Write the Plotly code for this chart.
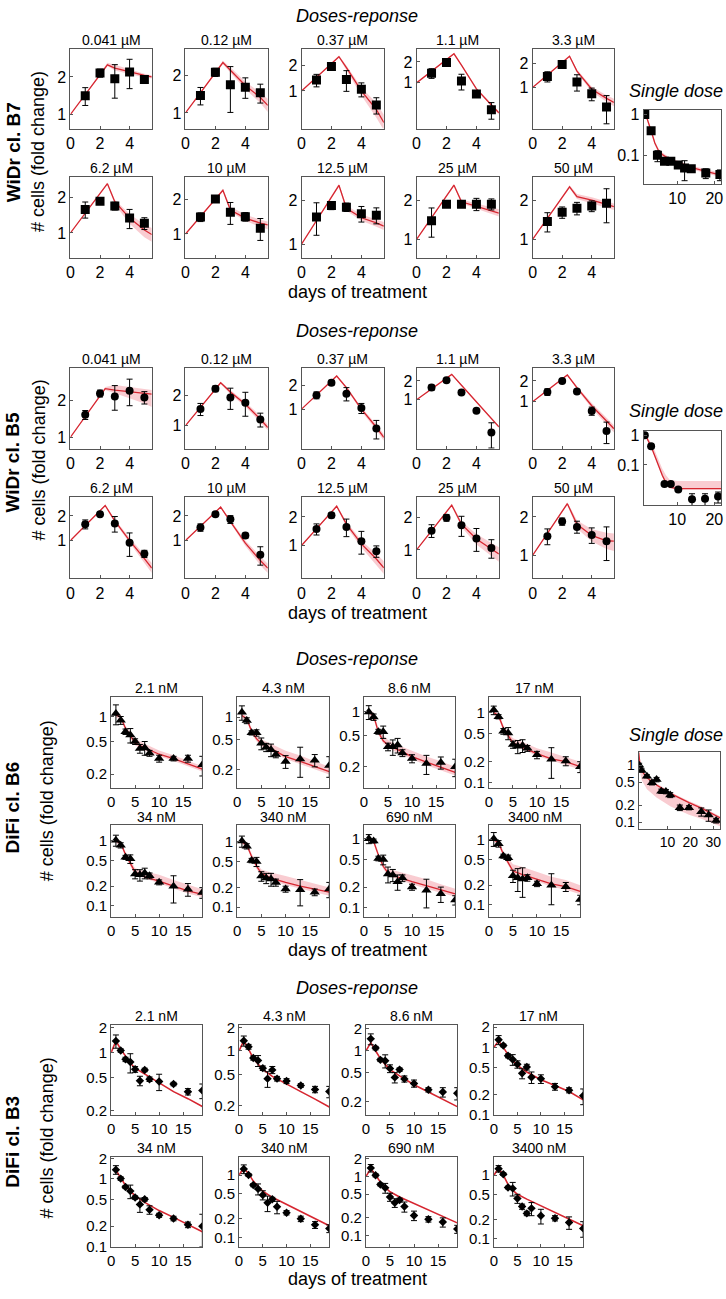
import numpy as np
import plotly.graph_objects as go

W, H = 726, 1299
FONT = "Liberation Sans, Arial, Helvetica, sans-serif"
RED = "rgb(214,38,48)"
BAND = "rgba(238,110,122,0.35)"
AXC = "#555555"

# ---------------- WiDr cl. B7 (dose response) ----------------
WIDR_days = [1, 2, 3, 4, 5]
B7_doses = ["0.041 µM", "0.12 µM", "0.37 µM", "1.1 µM", "3.3 µM",
            "6.2 µM", "10 µM", "12.5 µM", "25 µM", "50 µM"]
B7_mean = [[1.41, 2.15, 1.93, 2.19, 1.91], [1.38, 2.12, 1.68, 1.61, 1.45],
           [1.35, 1.96, 1.37, 1.05, 0.68], [1.38, 1.96, 1.06, 0.69, 0.41],
           [1.37, 1.94, 1.17, 0.83, 0.57], [1.59, 1.87, 1.70, 1.34, 1.21],
           [1.40, 2.00, 1.54, 1.41, 1.12], [1.54, 1.85, 1.80, 1.62, 1.58],
           [1.39, 1.86, 1.86, 1.86, 1.86], [1.37, 1.61, 1.73, 1.80, 1.89]]
B7_err = [[0.23, 0.16, 0.58, 0.58, 0.14], [0.22, 0.16, 0.67, 0.30, 0.25],
          [0.23, 0.12, 0.38, 0.20, 0.15], [0.22, 0.12, 0.27, 0.05, 0.11],
          [0.20, 0.12, 0.27, 0.15, 0.22], [0.25, 0.12, 0.13, 0.25, 0.14],
          [0.12, 0.13, 0.33, 0.12, 0.24], [0.39, 0.12, 0.12, 0.20, 0.20],
          [0.35, 0.10, 0.10, 0.20, 0.18], [0.23, 0.16, 0.19, 0.17, 0.55]]
B7_model_t = [0, 2.5, 3, 4, 5, 5.5]
B7_model = [[1.0, 2.50, 2.35, 2.19, 2.06, 2.00], [1.0, 2.53, 2.20, 1.66, 1.33, 1.15],
            [1.0, 2.57, 1.90, 1.00, 0.60, 0.42], [1.0, 2.62, 1.80, 0.82, 0.48, 0.37],
            [1.0, 2.46, 1.60, 0.95, 0.73, 0.65], [1.0, 2.64, 1.85, 1.34, 1.06, 0.97],
            [1.0, 2.38, 1.61, 1.37, 1.24, 1.20], [1.0, 2.55, 1.77, 1.52, 1.40, 1.33],
            [1.0, 2.60, 1.94, 1.78, 1.65, 1.59], [1.0, 2.52, 2.12, 2.00, 1.85, 1.78]]
B7_lo = [[1.0, 2.45, 2.25, 2.10, 1.98, 1.94], [1.0, 2.45, 2.10, 1.55, 1.20, 1.02],
         [1.0, 2.50, 1.80, 0.88, 0.48, 0.34], [1.0, 2.55, 1.74, 0.79, 0.46, 0.35],
         [1.0, 2.40, 1.52, 0.88, 0.66, 0.58], [1.0, 2.58, 1.75, 1.20, 0.92, 0.84],
         [1.0, 2.32, 1.55, 1.30, 1.15, 1.10], [1.0, 2.50, 1.70, 1.45, 1.32, 1.25],
         [1.0, 2.54, 1.88, 1.70, 1.57, 1.50], [1.0, 2.46, 2.04, 1.90, 1.75, 1.68]]
B7_hi = [[1.0, 2.60, 2.50, 2.30, 2.12, 2.06], [1.0, 2.62, 2.32, 1.78, 1.45, 1.30],
         [1.0, 2.65, 2.02, 1.10, 0.72, 0.52], [1.0, 2.70, 1.86, 0.85, 0.50, 0.39],
         [1.0, 2.53, 1.68, 1.02, 0.80, 0.72], [1.0, 2.70, 1.92, 1.45, 1.18, 1.10],
         [1.0, 2.45, 1.72, 1.47, 1.33, 1.28], [1.0, 2.62, 1.85, 1.60, 1.48, 1.42],
         [1.0, 2.66, 2.02, 1.88, 1.76, 1.70], [1.0, 2.60, 2.22, 2.10, 1.95, 1.88]]
B7_ylim = [[0.77, 3.38], [0.75, 3.28], [0.355, 3.22], [0.22, 3.12], [0.305, 3.07],
           [0.61, 3.01], [0.62, 3.10], [0.80, 2.91], [0.72, 3.0], [0.72, 3.0]]

# ---------------- WiDr cl. B5 (dose response) ----------------
B5_doses = B7_doses
B5_mean = [[1.53, 2.30, 2.17, 2.42, 2.13], [1.46, 2.32, 1.90, 1.69, 1.15],
           [1.50, 2.16, 1.57, 1.03, 0.57], [1.57, 2.05, 1.31, 0.67, 0.30],
           [1.39, 2.00, 1.41, 0.74, 0.38], [1.59, 2.10, 1.62, 0.94, 0.69],
           [1.45, 2.10, 1.82, 1.15, 0.67], [1.49, 2.08, 1.57, 1.11, 0.87],
           [1.50, 1.97, 1.68, 1.27, 1.04], [1.41, 1.84, 1.67, 1.44, 1.29]]
B5_err = [[0.13, 0.15, 0.50, 0.60, 0.25], [0.20, 0.15, 0.45, 0.45, 0.18],
          [0.15, 0.15, 0.30, 0.15, 0.15], [0.15, 0.13, 0.08, 0.04, 0.13],
          [0.15, 0.12, 0.10, 0.10, 0.13], [0.20, 0.12, 0.35, 0.30, 0.07],
          [0.15, 0.12, 0.20, 0.08, 0.17], [0.20, 0.12, 0.33, 0.30, 0.12],
          [0.20, 0.14, 0.35, 0.30, 0.20], [0.20, 0.12, 0.18, 0.20, 0.38]]
B5_model_t = [0, 2.35, 3, 4, 5, 5.5]
B5_model = [[1.0, 2.52, 2.45, 2.38, 2.30, 2.27], [1.0, 2.66, 2.15, 1.63, 1.16, 0.96],
            [1.0, 2.62, 1.87, 1.00, 0.59, 0.44], [1.0, 2.55, 1.71, 0.93, 0.51, 0.37],
            [1.0, 2.44, 1.60, 0.88, 0.53, 0.41], [1.0, 2.69, 1.74, 1.00, 0.60, 0.46],
            [1.0, 2.57, 1.71, 0.93, 0.57, 0.46], [1.0, 2.60, 1.68, 1.04, 0.72, 0.58],
            [1.0, 2.57, 1.72, 1.26, 1.02, 0.92], [1.0, 2.54, 1.75, 1.43, 1.30, 1.29]]
B5_lo = [[1.0, 2.45, 2.30, 2.10, 1.90, 1.78], [1.0, 2.60, 2.05, 1.55, 1.08, 0.90],
         [1.0, 2.55, 1.80, 0.94, 0.54, 0.40], [1.0, 2.50, 1.66, 0.90, 0.49, 0.355],
         [1.0, 2.38, 1.52, 0.80, 0.47, 0.36], [1.0, 2.62, 1.65, 0.92, 0.53, 0.40],
         [1.0, 2.50, 1.62, 0.86, 0.50, 0.40], [1.0, 2.53, 1.58, 0.95, 0.62, 0.50],
         [1.0, 2.50, 1.62, 1.12, 0.88, 0.78], [1.0, 2.47, 1.62, 1.28, 1.12, 1.08]]
B5_hi = [[1.0, 2.60, 2.70, 2.60, 2.50, 2.45], [1.0, 2.72, 2.25, 1.72, 1.25, 1.03],
         [1.0, 2.70, 1.95, 1.06, 0.64, 0.48], [1.0, 2.60, 1.76, 0.96, 0.53, 0.385],
         [1.0, 2.50, 1.68, 0.96, 0.59, 0.46], [1.0, 2.76, 1.83, 1.08, 0.67, 0.53],
         [1.0, 2.64, 1.80, 1.00, 0.64, 0.52], [1.0, 2.67, 1.78, 1.13, 0.82, 0.68],
         [1.0, 2.64, 1.82, 1.40, 1.16, 1.06], [1.0, 2.61, 1.88, 1.60, 1.50, 1.48]]
B5_ylim = [[0.80, 3.75], [0.59, 3.74], [0.315, 3.33], [0.165, 3.25], [0.21, 3.10],
           [0.345, 3.39], [0.345, 3.39], [0.45, 3.23], [0.55, 3.03], [0.66, 2.85]]

# ---------------- Single dose (WiDr) ----------------
SD_B7_t = [1.3, 3.0, 4.7, 6.6, 8.3, 10.3, 12.0, 13.8, 17.7, 21.5]
SD_B7_y = [1.0, 0.40, 0.10, 0.072, 0.072, 0.058, 0.049, 0.047, 0.037, 0.034]
SD_B7_e = [0.05, 0.04, 0.03, 0.01, 0.012, 0.008, 0.025, 0.005, 0.01, 0.01]
SD_B7_mt = [1, 2, 3, 4, 5, 6, 8, 10, 14, 18, 21.8]
SD_B7_m = [1.2, 0.75, 0.40, 0.20, 0.13, 0.105, 0.080, 0.068, 0.050, 0.040, 0.033]
SD_B7_lo = [1.1, 0.68, 0.36, 0.18, 0.115, 0.095, 0.073, 0.062, 0.045, 0.036, 0.029]
SD_B7_hi = [1.3, 0.82, 0.44, 0.22, 0.145, 0.117, 0.089, 0.075, 0.056, 0.045, 0.037]

SD_B5_t = [1.3, 3.0, 6.6, 8.3, 10.3, 14.0, 17.5, 21.0]
SD_B5_y = [1.0, 0.43, 0.023, 0.023, 0.015, 0.007, 0.0072, 0.0087]
SD_B5_e = [0.05, 0.07, 0.002, 0.003, 0.002, 0.0037, 0.0035, 0.0035]
SD_B5_mt = [1, 2, 3, 4, 5, 6, 7, 8, 10, 21.8]
SD_B5_m = [1.3, 0.75, 0.42, 0.20, 0.09, 0.045, 0.025, 0.018, 0.016, 0.016]
SD_B5_lo = [1.2, 0.68, 0.38, 0.18, 0.08, 0.040, 0.022, 0.016, 0.015, 0.015]
SD_B5_hi = [1.4, 0.90, 0.55, 0.30, 0.14, 0.075, 0.045, 0.032, 0.029, 0.029]

# ---------------- DiFi cl. B6 ----------------
DIFI_days = [1, 2, 3, 4, 5, 6, 7, 8, 10, 13, 16, 19]
DIFI_doses = ["2.1 nM", "4.3 nM", "8.6 nM", "17 nM", "34 nM", "340 nM", "690 nM", "3400 nM"]
B6_mean = [[1.10, 0.91, 0.66, 0.60, 0.50, 0.41, 0.42, 0.36, 0.31, 0.31, 0.31, 0.26],
           [1.16, 0.90, 0.62, 0.62, 0.45, 0.40, 0.37, 0.32, 0.26, 0.28, 0.27, 0.23],
           [1.00, 0.86, 0.56, 0.56, 0.36, 0.36, 0.38, 0.30, 0.255, 0.22, 0.227, 0.20],
           [1.08, 0.87, 0.54, 0.51, 0.35, 0.33, 0.34, 0.31, 0.25, 0.216, 0.205, 0.17],
           [1.03, 0.86, 0.56, 0.53, 0.31, 0.30, 0.32, 0.29, 0.23, 0.20, 0.18, 0.16],
           [1.03, 0.86, 0.52, 0.50, 0.30, 0.28, 0.27, 0.24, 0.19, 0.185, 0.17, 0.19],
           [1.00, 0.93, 0.52, 0.50, 0.31, 0.30, 0.24, 0.27, 0.20, 0.18, 0.16, 0.13],
           [1.04, 0.87, 0.56, 0.53, 0.28, 0.26, 0.25, 0.26, 0.21, 0.20, 0.19, 0.12]]
B6_err = [[0.30, 0.10, 0.05, 0.12, 0.04, 0.05, 0.08, 0.03, 0.03, 0.02, 0.03, 0.07],
          [0.25, 0.08, 0.04, 0.06, 0.08, 0.05, 0.07, 0.03, 0.05, 0.12, 0.05, 0.07],
          [0.20, 0.08, 0.04, 0.10, 0.04, 0.08, 0.08, 0.03, 0.03, 0.06, 0.04, 0.05],
          [0.15, 0.06, 0.05, 0.10, 0.04, 0.07, 0.07, 0.03, 0.03, 0.10, 0.03, 0.03],
          [0.20, 0.08, 0.04, 0.08, 0.05, 0.06, 0.06, 0.03, 0.02, 0.09, 0.04, 0.03],
          [0.20, 0.08, 0.04, 0.08, 0.05, 0.05, 0.06, 0.03, 0.02, 0.08, 0.02, 0.05],
          [0.15, 0.06, 0.04, 0.08, 0.08, 0.06, 0.06, 0.03, 0.02, 0.08, 0.04, 0.02],
          [0.25, 0.10, 0.04, 0.05, 0.06, 0.10, 0.12, 0.03, 0.02, 0.10, 0.03, 0.02]]
B6_model_t = [1, 2, 3, 4, 5, 7, 10, 13, 16, 19]
B6_model = [[1.05, 1.00, 0.72, 0.58, 0.48, 0.42, 0.35, 0.31, 0.27, 0.23],
            [1.05, 0.95, 0.65, 0.52, 0.45, 0.38, 0.30, 0.26, 0.22, 0.19],
            [1.00, 0.90, 0.55, 0.43, 0.38, 0.33, 0.27, 0.23, 0.20, 0.17],
            [1.00, 0.90, 0.60, 0.47, 0.37, 0.32, 0.26, 0.22, 0.20, 0.17],
            [1.00, 0.92, 0.62, 0.45, 0.33, 0.28, 0.24, 0.20, 0.17, 0.15],
            [1.00, 0.90, 0.60, 0.43, 0.33, 0.28, 0.24, 0.21, 0.19, 0.17],
            [1.00, 0.92, 0.58, 0.40, 0.32, 0.28, 0.24, 0.21, 0.18, 0.16],
            [1.00, 0.90, 0.60, 0.45, 0.33, 0.29, 0.25, 0.21, 0.19, 0.16]]
B6_lo = [[0.98, 0.93, 0.67, 0.54, 0.45, 0.39, 0.33, 0.29, 0.25, 0.215],
         [0.97, 0.88, 0.60, 0.48, 0.41, 0.35, 0.28, 0.24, 0.205, 0.175],
         [0.93, 0.83, 0.51, 0.40, 0.35, 0.30, 0.25, 0.21, 0.18, 0.155],
         [0.93, 0.83, 0.55, 0.43, 0.34, 0.30, 0.24, 0.205, 0.18, 0.155],
         [0.93, 0.85, 0.57, 0.41, 0.30, 0.26, 0.22, 0.185, 0.155, 0.135],
         [0.93, 0.83, 0.55, 0.39, 0.30, 0.26, 0.22, 0.19, 0.17, 0.15],
         [0.93, 0.85, 0.53, 0.37, 0.29, 0.26, 0.22, 0.19, 0.165, 0.145],
         [0.93, 0.83, 0.55, 0.41, 0.30, 0.27, 0.23, 0.19, 0.17, 0.145]]
B6_hi = [[1.12, 1.07, 0.78, 0.64, 0.54, 0.47, 0.39, 0.34, 0.29, 0.25],
         [1.13, 1.03, 0.72, 0.59, 0.51, 0.44, 0.36, 0.31, 0.26, 0.22],
         [1.08, 0.98, 0.62, 0.50, 0.44, 0.38, 0.32, 0.27, 0.235, 0.20],
         [1.08, 0.98, 0.66, 0.53, 0.43, 0.38, 0.31, 0.27, 0.235, 0.20],
         [1.08, 1.00, 0.68, 0.50, 0.38, 0.34, 0.30, 0.25, 0.21, 0.18],
         [1.08, 0.98, 0.66, 0.48, 0.38, 0.34, 0.30, 0.26, 0.23, 0.20],
         [1.08, 1.00, 0.64, 0.45, 0.37, 0.34, 0.30, 0.26, 0.22, 0.19],
         [1.08, 0.98, 0.66, 0.52, 0.42, 0.38, 0.32, 0.27, 0.24, 0.20]]
B6_ylim = [[0.136, 1.75], [0.116, 1.85], [0.108, 1.55], [0.085, 1.66],
           [0.066, 1.74], [0.07, 1.79], [0.073, 1.56], [0.064, 1.66]]

SD_B6_t = [-2.4, -1.3, 1.0, 3.2, 5.2, 7.3, 9.3, 11.2, 15.4, 19.4, 24.8, 28.0, 31.3]
SD_B6_y = [1.0, 0.81, 0.64, 0.49, 0.56, 0.35, 0.345, 0.30, 0.18, 0.18, 0.153, 0.134, 0.107]
SD_B6_e = [0.08, 0.05, 0.04, 0.04, 0.05, 0.03, 0.03, 0.03, 0.02, 0.015, 0.025, 0.03, 0.01]
SD_B6_mt = [-2.6, -2.0, -1.3, 1.0, 5.2, 11.2, 19.4, 24.8, 33.0]
SD_B6_m = [1.68, 1.00, 0.80, 0.60, 0.45, 0.32, 0.22, 0.177, 0.12]
SD_B6_lo = [1.50, 0.75, 0.55, 0.38, 0.27, 0.19, 0.135, 0.115, 0.085]
SD_B6_hi = [1.70, 1.05, 0.85, 0.63, 0.48, 0.34, 0.235, 0.19, 0.128]

# ---------------- DiFi cl. B3 ----------------
B3_mean = [[1.38, 1.06, 0.83, 0.77, 0.63, 0.46, 0.62, 0.48, 0.45, 0.42, 0.34, 0.35],
           [1.35, 1.13, 0.81, 0.75, 0.60, 0.44, 0.57, 0.44, 0.41, 0.36, 0.32, 0.30],
           [1.46, 1.09, 0.75, 0.73, 0.57, 0.43, 0.55, 0.41, 0.355, 0.29, 0.27, 0.26],
           [1.30, 1.07, 0.75, 0.66, 0.56, 0.41, 0.51, 0.36, 0.34, 0.26, 0.23, 0.19],
           [1.37, 1.01, 0.76, 0.66, 0.53, 0.42, 0.50, 0.35, 0.29, 0.26, 0.21, 0.20],
           [1.25, 1.00, 0.69, 0.60, 0.48, 0.36, 0.41, 0.31, 0.25, 0.20, 0.16, 0.14],
           [1.38, 1.04, 0.73, 0.64, 0.45, 0.36, 0.40, 0.31, 0.22, 0.19, 0.17, 0.13],
           [1.27, 1.04, 0.64, 0.62, 0.43, 0.32, 0.25, 0.30, 0.23, 0.21, 0.18, 0.145]]
B3_err = [[0.25, 0.05, 0.05, 0.20, 0.05, 0.06, 0.03, 0.03, 0.10, 0.02, 0.03, 0.07],
          [0.20, 0.08, 0.05, 0.12, 0.04, 0.10, 0.06, 0.03, 0.03, 0.02, 0.03, 0.05],
          [0.25, 0.06, 0.04, 0.15, 0.07, 0.07, 0.03, 0.04, 0.04, 0.02, 0.04, 0.05],
          [0.20, 0.05, 0.05, 0.12, 0.07, 0.07, 0.05, 0.07, 0.05, 0.03, 0.02, 0.05],
          [0.20, 0.06, 0.04, 0.15, 0.03, 0.10, 0.03, 0.05, 0.02, 0.02, 0.02, 0.10],
          [0.20, 0.05, 0.04, 0.12, 0.08, 0.10, 0.03, 0.07, 0.02, 0.02, 0.02, 0.02],
          [0.20, 0.06, 0.04, 0.12, 0.07, 0.06, 0.03, 0.06, 0.04, 0.02, 0.03, 0.02],
          [0.15, 0.05, 0.03, 0.15, 0.07, 0.03, 0.02, 0.07, 0.06, 0.02, 0.04, 0.04]]
B3_model_t = [0, 1, 2, 3, 4, 5, 7, 10, 13, 16, 19]
B3_model = [[1.0, 1.38, 1.10, 0.90, 0.75, 0.65, 0.55, 0.43, 0.34, 0.28, 0.225],
            [1.0, 1.35, 1.05, 0.80, 0.68, 0.58, 0.47, 0.38, 0.30, 0.24, 0.19],
            [1.0, 1.30, 1.00, 0.78, 0.65, 0.55, 0.45, 0.34, 0.27, 0.215, 0.17],
            [1.0, 1.25, 1.00, 0.78, 0.64, 0.54, 0.43, 0.33, 0.27, 0.22, 0.165],
            [None, 1.35, 1.05, 0.80, 0.66, 0.56, 0.45, 0.34, 0.27, 0.21, 0.165],
            [1.0, 1.30, 1.05, 0.80, 0.66, 0.55, 0.44, 0.34, 0.26, 0.20, 0.155],
            [1.0, 1.35, 1.05, 0.80, 0.65, 0.55, 0.45, 0.35, 0.27, 0.21, 0.165],
            [1.0, 1.30, 1.00, 0.72, 0.58, 0.50, 0.42, 0.33, 0.26, 0.20, 0.16]]
B3_ylim = [[0.178, 2.14], [0.15, 2.14], [0.13, 2.26], [0.098, 2.15],
           [0.10, 2.14], [0.072, 1.97], [0.066, 2.15], [0.075, 1.97]]

# ---------------- layout (pixel boxes) ----------------
WIDR_cols = [[67, 149], [183, 266], [300, 383], [416, 499], [533, 615]]
B7_rows = [[42, 123], [172, 254]]
B5_rows = [[365, 447], [496, 578]]
B6_cols = [[108, 200], [235, 328], [363, 455], [489, 581]]
B6_rows = [[698, 790], [828, 921]]
B3_cols = [[108, 200], [237, 328], [365, 457], [494, 584]]
B3_rows = [[1030, 1121], [1163, 1254]]

fig = go.Figure()
annots = []
axcount = [0]


def fmt(v):
    return f"{v:g}"


def add_axes(xpx, ypx, xr, xt, yr, yt, tfs):
    axcount[0] += 1
    n = axcount[0]
    s = "" if n == 1 else str(n)
    common = dict(showline=True, mirror=True, linecolor=AXC, linewidth=1,
                  ticks="inside", ticklen=3, tickcolor=AXC, showgrid=False,
                  zeroline=False, tickfont=dict(size=tfs, color="black", family=FONT))
    fig.update_layout(**{
        "xaxis" + s: dict(domain=[xpx[0] / W, xpx[1] / W], anchor="y" + s,
                          range=xr, tickvals=xt, ticktext=[fmt(v) for v in xt], **common),
        "yaxis" + s: dict(domain=[1 - ypx[1] / H, 1 - ypx[0] / H], anchor="x" + s,
                          type="log", range=[np.log10(yr[0]), np.log10(yr[1])],
                          tickvals=yt, ticktext=[fmt(v) for v in yt], **common),
    })
    return "x" + s, "y" + s


def draw(ax, ay, t, y, e, mt, my, lo, hi, symbol, msize, lw=1.3):
    pts = [(a, b) for a, b in zip(mt, my) if b is not None]
    mx = [p[0] for p in pts]
    myy = [p[1] for p in pts]
    if lo is not None:
        fig.add_trace(go.Scatter(x=list(mt) + list(mt)[::-1], y=list(hi) + list(lo)[::-1],
                                 fill="toself", fillcolor=BAND, line=dict(width=0),
                                 mode="lines", hoverinfo="skip", showlegend=False,
                                 xaxis=ax, yaxis=ay))
    fig.add_trace(go.Scatter(x=mx, y=myy, mode="lines", line=dict(color=RED, width=lw),
                             showlegend=False, xaxis=ax, yaxis=ay))
    fig.add_trace(go.Scatter(x=t, y=y, mode="markers",
                             marker=dict(symbol=symbol, size=msize, color="black"),
                             error_y=dict(type="data", array=e, color="black",
                                          thickness=1, width=3),
                             showlegend=False, xaxis=ax, yaxis=ay))


def ann(text, x, y, size, angle=0, xanchor="center"):
    annots.append(dict(text=text, x=x / W, y=1 - y / H, xref="paper", yref="paper",
                       showarrow=False, textangle=angle, xanchor=xanchor, yanchor="middle",
                       font=dict(size=size, family=FONT, color="black")))


# WiDr blocks
for rows, doses, mean, err, mt, mod, lo, hi, ylim, sym, ms in [
        (B7_rows, B7_doses, B7_mean, B7_err, B7_model_t, B7_model, B7_lo, B7_hi, B7_ylim, "square", 9),
        (B5_rows, B5_doses, B5_mean, B5_err, B5_model_t, B5_model, B5_lo, B5_hi, B5_ylim, "circle", 8)]:
    for i in range(10):
        r, c = divmod(i, 5)
        xpx, ypx = WIDR_cols[c], rows[r]
        ax, ay = add_axes(xpx, ypx, [0, 5.5], [0, 2, 4], ylim[i], [1, 2], 16)
        draw(ax, ay, WIDR_days, mean[i], err[i], mt, mod[i], lo[i], hi[i], sym, ms)
        ann(doses[i], (xpx[0] + xpx[1]) / 2, ypx[0] - 9, 14)

# WiDr single dose
ax, ay = add_axes([645, 723], [104, 179], [1, 21.8], [10, 20], [0.02, 1.3], [0.1, 1], 16)
draw(ax, ay, SD_B7_t, SD_B7_y, SD_B7_e, SD_B7_mt, SD_B7_m, SD_B7_lo, SD_B7_hi, "square", 9)
ax, ay = add_axes([645, 723], [429, 504], [1, 21.8], [10, 20], [0.0044, 1.39], [0.1, 1], 16)
draw(ax, ay, SD_B5_t, SD_B5_y, SD_B5_e, SD_B5_mt, SD_B5_m, SD_B5_lo, SD_B5_hi, "circle", 8)

# DiFi B6
for i in range(8):
    r, c = divmod(i, 4)
    xpx, ypx = B6_cols[c], B6_rows[r]
    ax, ay = add_axes(xpx, ypx, [0, 19], [0, 5, 10, 15], B6_ylim[i], [0.1, 0.2, 0.5, 1], 15)
    draw(ax, ay, DIFI_days, B6_mean[i], B6_err[i], B6_model_t, B6_model[i], B6_lo[i], B6_hi[i],
         "triangle-up", 9)
    ann(DIFI_doses[i], (xpx[0] + xpx[1]) / 2, ypx[0] - 9, 14)
ax, ay = add_axes([640, 722], [754, 832], [-2.6, 33], [10, 20, 30], [0.075, 1.68],
                  [0.1, 0.2, 0.5, 1], 14)
draw(ax, ay, SD_B6_t, SD_B6_y, SD_B6_e, SD_B6_mt, SD_B6_m, SD_B6_lo, SD_B6_hi, "triangle-up", 9)

# DiFi B3
for i in range(8):
    r, c = divmod(i, 4)
    xpx, ypx = B3_cols[c], B3_rows[r]
    ax, ay = add_axes(xpx, ypx, [0, 19], [0, 5, 10, 15], B3_ylim[i], [0.1, 0.2, 0.5, 1, 2], 15)
    draw(ax, ay, DIFI_days, B3_mean[i], B3_err[i], B3_model_t, B3_model[i], None, None,
         "diamond", 6.5, lw=1.6)
    ann(DIFI_doses[i], (xpx[0] + xpx[1]) / 2, ypx[0] - 9, 14)

# Texts
for y in [9, 328, 660, 992]:
    ann("<i>Doses-reponse</i>", 356, y, 18)
for y in [288, 613, 954, 1287]:
    ann("days of treatment", 356, y, 18)
for y in [85, 409, 737]:
    ann("<i>Single dose</i>", 628, y, 18, xanchor="left")
ann("<b>WiDr cl. B7</b>", 9, 147, 19, angle=-90)
ann("# cells (fold change)", 35, 146, 18, angle=-90)
ann("<b>WiDr cl. B5</b>", 9, 460, 19, angle=-90)
ann("# cells (fold change)", 35, 458, 18, angle=-90)
ann("<b>DiFi cl. B6</b>", 9, 810, 19, angle=-90)
ann("# cells (fold change)", 43, 803, 18, angle=-90)
ann("<b>DiFi cl. B3</b>", 9, 1148, 19, angle=-90)
ann("# cells (fold change)", 43, 1144, 18, angle=-90)

fig.update_layout(autosize=True, margin=dict(l=0, r=0, t=0, b=0),
                  paper_bgcolor="white", plot_bgcolor="white", showlegend=False,
                  font=dict(family=FONT, color="black"), annotations=annots)
fig.write_html("out.html", default_width="100vw", default_height="100vh",
               config={"displayModeBar": False, "responsive": True},
               post_script="document.body.style.margin='0px';"
                           "document.body.style.overflow='hidden';"
                           "Plotly.Plots.resize(document.getElementById('{plot_id}'));")
